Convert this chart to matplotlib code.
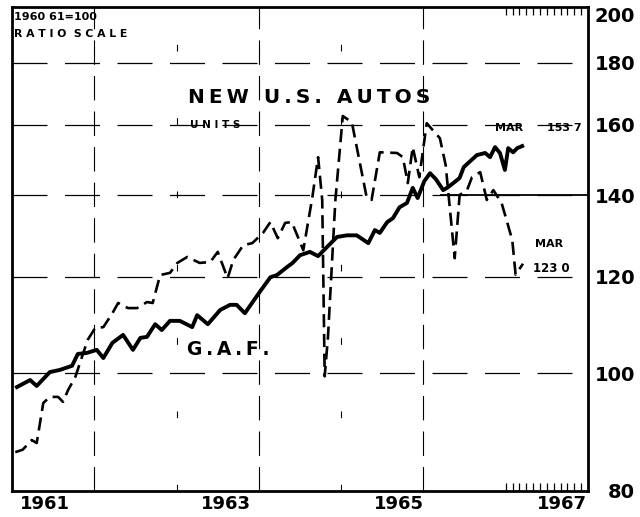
import matplotlib
matplotlib.use('Agg')
import matplotlib.pyplot as plt
from matplotlib.ticker import FixedLocator, NullFormatter

plt.rcParams['font.family'] = ['DejaVu Sans']
plt.rcParams['font.weight'] = 'bold'

# G.A.F. (solid), 1960-61=100
gaf_t = [1961.06, 1961.22, 1961.30, 1961.46, 1961.58, 1961.73, 1961.80, 1961.91,
         1962.03, 1962.11, 1962.22, 1962.35, 1962.47, 1962.56, 1962.64, 1962.74,
         1962.82, 1962.92, 1963.04, 1963.19, 1963.25, 1963.38, 1963.53, 1963.65,
         1963.73, 1963.83, 1964.01, 1964.14, 1964.22, 1964.34, 1964.41, 1964.50,
         1964.62, 1964.72, 1964.83, 1964.95, 1965.07, 1965.19, 1965.33, 1965.41,
         1965.47, 1965.56, 1965.63, 1965.71, 1965.80, 1965.87, 1965.93, 1966.01,
         1966.08, 1966.15, 1966.24, 1966.30, 1966.38, 1966.44, 1966.49, 1966.57,
         1966.65, 1966.75, 1966.81, 1966.87, 1966.93, 1966.99, 1967.03, 1967.09,
         1967.14, 1967.20]
gaf_v = [97.4, 98.7, 97.6, 100.2, 100.6, 101.4, 103.7, 103.9,
         104.5, 102.9, 105.9, 107.5, 104.5, 106.9, 107.1, 109.7,
         108.5, 110.4, 110.4, 109.1, 111.6, 109.7, 112.7, 113.8,
         113.8, 112.0, 116.6, 119.9, 120.4, 122.2, 123.2, 125.0,
         125.8, 124.8, 127.0, 129.4, 129.8, 129.8, 127.9, 131.1,
         130.4, 133.1, 134.1, 136.9, 138.0, 142.0, 139.3, 143.8,
         146.0, 144.4, 141.4, 142.2, 143.6, 144.7, 147.7, 149.4,
         151.1, 151.7, 150.5, 153.4, 151.7, 146.9, 153.1, 151.9,
         153.1, 153.7]

# new U.S. autos, units (dashed)
autos_t = [1961.04, 1961.13, 1961.24, 1961.30, 1961.38, 1961.46, 1961.56, 1961.62,
           1961.68, 1961.77, 1961.85, 1961.92, 1962.01, 1962.11, 1962.22, 1962.29,
           1962.41, 1962.52, 1962.64, 1962.71, 1962.80, 1962.92, 1963.01, 1963.13,
           1963.28, 1963.41, 1963.50, 1963.62, 1963.69, 1963.81, 1963.92, 1964.05,
           1964.14, 1964.23, 1964.32, 1964.40, 1964.54, 1964.65, 1964.72, 1964.77,
           1964.80, 1964.84, 1964.93, 1965.02, 1965.13, 1965.31, 1965.37, 1965.47,
           1965.68, 1965.75, 1965.81, 1965.87, 1965.95, 1966.04, 1966.20, 1966.27,
           1966.38, 1966.44, 1966.53, 1966.59, 1966.69, 1966.77, 1966.85, 1966.95,
           1967.02, 1967.08, 1967.12, 1967.21]
autos_v = [86.1, 86.5, 88.1, 87.6, 94.5, 95.6, 95.6, 94.7,
           96.8, 99.3, 103.1, 106.5, 108.9, 109.1, 112.0, 114.2,
           113.1, 113.1, 114.4, 114.2, 120.4, 120.9, 123.2, 124.6,
           123.2, 123.4, 125.8, 119.7, 123.9, 127.4, 127.9, 130.4,
           133.1, 129.1, 132.9, 133.1, 126.2, 139.5, 150.5, 138.8,
           99.4, 107.1, 138.8, 162.7, 160.8, 139.5, 138.8, 151.9,
           151.7, 150.5, 143.3, 153.4, 144.9, 160.5, 156.0, 148.3,
           124.3, 140.1, 141.4, 144.9, 146.3, 138.8, 141.4, 138.0,
           132.9, 128.6, 120.5, 123.0]

y_ticks = [80, 100, 120, 140, 160, 180, 200]
year_labels = ['1961', '1963', '1965', '1967']
year_label_pos = [1961.4, 1963.6, 1965.7, 1967.68]

fig = plt.figure(figsize=(6.4, 5.17), dpi=100)
ax = fig.add_axes([0.01875, 0.0503, 0.9, 0.9362])
ax.set_yscale('log')
ax.set_ylim(80, 200)
ax.set_xlim(1961, 1968)

# grid
for y in y_ticks[1:-1]:
    ax.axhline(y, color='k', lw=0.9, dashes=(28, 14), zorder=1)
ax.hlines(140, 1966.2, 1968, color='k', lw=1.3, zorder=1)
for yr in [1962, 1964, 1966]:
    ax.axvline(yr, color='k', lw=0.8, dashes=(22, 10), zorder=1)
for yr in [1963, 1965]:
    ax.axvline(yr, color='k', lw=0.8, dashes=(6, 60), zorder=1)

ax.plot(gaf_t, gaf_v, color='k', lw=2.8, solid_joinstyle='round', zorder=3)
ax.plot(autos_t, autos_v, color='k', lw=1.9, dashes=(5, 2.5), zorder=3)

# axes / ticks
ax.yaxis.tick_right()
ax.yaxis.set_major_locator(FixedLocator(y_ticks))
ax.yaxis.set_minor_locator(FixedLocator([]))
ax.yaxis.set_minor_formatter(NullFormatter())
ax.set_yticklabels([str(v) for v in y_ticks])
ax.tick_params(axis='y', length=0, pad=34, labelsize=14)
for lab in ax.get_yticklabels():
    lab.set_horizontalalignment('right')
    lab.set_fontweight('bold')
ax.get_yticklabels()[-1].set_verticalalignment('top')

ax.set_xticks(year_label_pos)
ax.set_xticklabels(year_labels, fontsize=13, fontweight='bold')
ax.tick_params(axis='x', length=0, pad=3)
ax.set_xticks([1967 + k / 12 for k in range(12)], minor=True)
ax.tick_params(axis='x', which='minor', direction='in', length=6, width=0.9,
               top=True, bottom=True)

for s in ax.spines.values():
    s.set_linewidth(2)

# labels
ax.text(0.004, 0.99, '1960 61=100', transform=ax.transAxes, fontsize=8,
        fontweight='bold', va='top')
ax.text(0.004, 0.955, 'R A T I O  S C A L E', transform=ax.transAxes, fontsize=7.8,
        fontweight='bold', va='top')
ax.text(1963.14, 168.5, '\u2009'.join('NEW U.S. AUTOS'), fontsize=14.5,
        fontweight='bold', va='center')
ax.text(1963.16, 160, 'U N I T S', fontsize=7.5, fontweight='bold', va='center')
ax.text(1963.13, 104.6, '\u2009'.join('G.A.F.'), fontsize=13.5,
        fontweight='bold', va='center')
ax.text(1966.87, 158.9, 'MAR', fontsize=8, fontweight='bold', va='center')
ax.text(1967.5, 158.9, '153 7', fontsize=8, va='center')
ax.text(1967.36, 127.7, 'MAR', fontsize=8, fontweight='bold', va='center')
ax.text(1967.33, 122.0, '123 0', fontsize=8.5, va='center')

fig.savefig('out.png', dpi=100)
